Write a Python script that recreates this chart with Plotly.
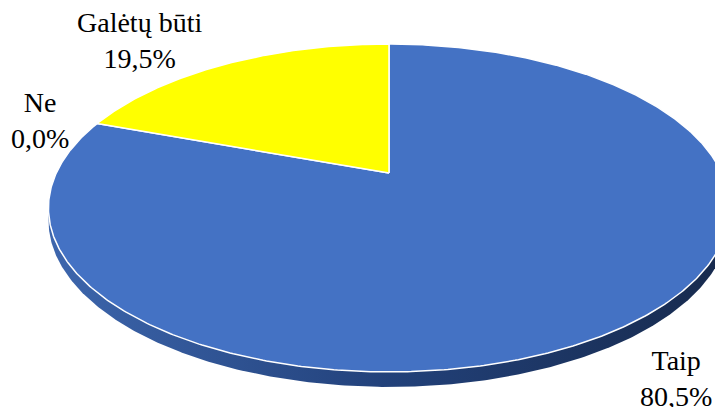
import numpy as np
import plotly.graph_objects as go

# ---- data ----
categories = ["Taip", "Ne", "Galėtų būti"]
values = [80.5, 0.0, 19.5]
value_labels = ["80,5%", "0,0%", "19,5%"]
slice_colors = ["#4472C4", "#A5A5A5", "#FFFF00"]

# ---- layout / geometry (pixel space of the 723x407 window) ----
W, H = 723, 407
OFF = 8                          # default page body margin
CX, CY = 389.0, 173.0            # projected pie centre
A, B, C = 332.7, 0.2134, 156.5   # perspective projection params
DEPTH = 11.8                     # pie thickness
label_pos = [(676, 378), (40, 120), (139, 40)]
FONT = "Liberation Serif"


def proj(theta_deg, r=1.0, drop=0.0):
    t = np.radians(theta_deg)
    X = r * np.sin(t)
    Z = r * np.cos(t)
    d = 1 + B * Z
    return CX + A * X / d, CY - C * Z / d + drop / d


fig = go.Figure()

# side (lower face) of the pie
th = np.linspace(0, 360, 721)
sx, sy = proj(th, drop=DEPTH)
fig.add_trace(go.Scatter(
    x=sx, y=sy, mode="lines", fill="toself",
    line=dict(width=0, color="rgba(0,0,0,0)"),
    fillgradient=dict(type="horizontal",
                      colorscale=[[0, "#3d66ad"], [0.5, "#22417a"], [1, "#172a4d"]]),
    hoverinfo="skip", showlegend=False))

# top slices
total = sum(values)
start = 0.0
for cat, v, col in zip(categories, values, slice_colors):
    span = 360.0 * v / total
    if span > 0:
        a = np.linspace(start, start + span, max(int(span * 2), 2))
        ax_, ay_ = proj(a)
        px = np.concatenate([[CX], ax_, [CX]])
        py = np.concatenate([[CY], ay_, [CY]])
        fig.add_trace(go.Scatter(
            x=px, y=py, mode="lines", fill="toself", fillcolor=col,
            line=dict(color="white", width=1.5),
            name=cat, hoverinfo="name", showlegend=False))
    start += span

for cat, lab, (lx, ly) in zip(categories, value_labels, label_pos):
    fig.add_annotation(x=lx, y=ly, xref="x", yref="y",
                       text=f"{cat}<br>{lab}", showarrow=False,
                       xanchor="center", yanchor="middle", align="center",
                       font=dict(family=FONT, size=28, color="black"))

fig.update_layout(
    width=W - OFF, height=H - OFF, margin=dict(l=0, r=0, t=0, b=0),
    paper_bgcolor="white", plot_bgcolor="white",
    xaxis=dict(range=[OFF, W], visible=False, fixedrange=True),
    yaxis=dict(range=[H, OFF], visible=False, fixedrange=True),
)

fig.write_html("out.html", config={"displayModeBar": False})
